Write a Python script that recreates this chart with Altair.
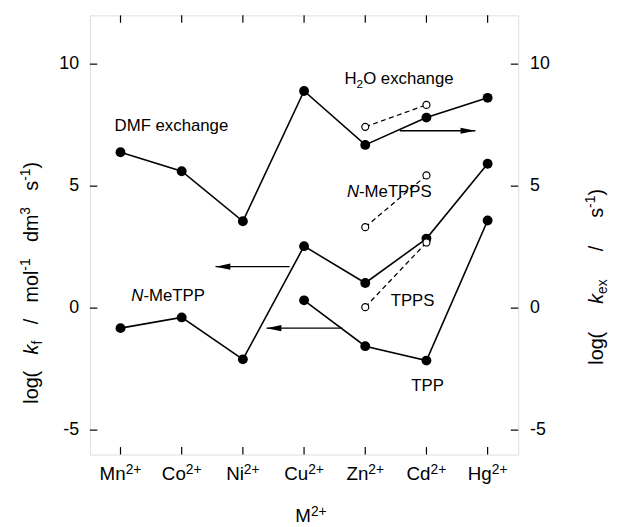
import altair as alt
import pandas as pd

FONT = "Liberation Sans"

# ---------------- data ----------------
metals = ["Mn", "Co", "Ni", "Cu", "Zn", "Cd", "Hg"]
charge = "2+"
solvent_exchange = [6.39, 5.61, 3.56, 8.90, 6.69, 7.81, 8.62]   # DMF / H2O exchange (log kex)
n_metpp = [-0.82, -0.38, -2.10, 2.54, 1.03, 2.85, 5.92]
tpp_metals = ["Cu", "Zn", "Cd", "Hg"]
tpp = [0.32, -1.56, -2.15, 3.59]
open_metals = ["Zn", "Cd"]
h2o_open = [7.43, 8.33]
n_metpps = [3.32, 5.44]
tpps = [0.04, 2.69]
y_ticks = [-5, 0, 5, 10]
arrow_y = [7.27, 1.70, -0.82]
arrow_tail = [4.565, 2.763, 3.624]
arrow_tip = [5.80, 1.553, 2.387]
arrow_dir = ["right", "left", "left"]

W, H = 434, 445
XS = alt.Scale(domain=[-0.5, 6.5], nice=False, zero=False)
YS = alt.Scale(domain=[-6, 12], nice=False, zero=False)

idx = {m: i for i, m in enumerate(metals)}

solid_rows = []
for name, ms, vals in [("solvent", metals, solvent_exchange),
                       ("nmetpp", metals, n_metpp),
                       ("tpp", tpp_metals, tpp)]:
    for m, v in zip(ms, vals):
        solid_rows.append({"s": name, "i": idx[m], "v": v})
solid = pd.DataFrame(solid_rows)

open_rows = []
for name, vals in [("h2o", h2o_open), ("nmetpps", n_metpps), ("tpps", tpps)]:
    for m, v in zip(open_metals, vals):
        open_rows.append({"s": name, "i": idx[m], "v": v})
opn = pd.DataFrame(open_rows)

arrows = pd.DataFrame({"y": arrow_y, "x": arrow_tail, "x2": arrow_tip, "d": arrow_dir})
yt = pd.DataFrame({"v": y_ticks, "lab": [str(v) for v in y_ticks]})
xt = pd.DataFrame({"i": list(range(len(metals)))})

# ---------------- helpers ----------------
CW = {" ": 278, "(": 333, ")": 333, "/": 278, "-": 333, "+": 584, "l": 222, "o": 556,
      "g": 556, "k": 500, "f": 278, "m": 833, "d": 556, "s": 500, "e": 556, "x": 500,
      "M": 833, "n": 556, "C": 722, "N": 722, "i": 222, "u": 556, "Z": 611, "H": 722,
      "c": 500, "h": 556, "a": 556, "D": 722, "F": 611, "O": 778, "T": 611, "P": 667,
      "S": 667}


def tw(s, size):
    return sum(CW.get(c, 556) for c in s) * size / 1000.0


def rich(pieces, x, y, angle=0, center=False, target=None):
    # pieces: (text, size, italic, baseline shift); leading/trailing spaces handled via dx
    nat = sum(tw(t, s) for t, s, _, _ in pieces)
    nsp = sum((len(t) - len(t.lstrip(" "))) + (len(t) - len(t.rstrip(" ")))
              for t, _, _, _ in pieces)
    extra = (target - nat) / nsp if (target and nsp) else 0.0
    total = nat + extra * nsp
    cum = -total / 2 if center else 0.0
    out = []
    for t, s, it, sh in pieces:
        lead = len(t) - len(t.lstrip(" "))
        trail = len(t) - len(t.rstrip(" "))
        core = t.strip(" ")
        spw = tw(" ", s) + extra
        cum += lead * spw
        out.append(
            alt.Chart(pd.DataFrame({"t": [core]}))
            .mark_text(align="left", baseline="alphabetic", dx=round(cum, 2), dy=sh,
                       angle=angle, font=FONT, fontSize=s,
                       fontStyle="italic" if it else "normal", color="black")
            .encode(x=x, y=y, text="t:N")
        )
        cum += tw(core, s) + trail * spw
    return out


def xd(v):
    return alt.XDatum(v, scale=XS, axis=None, type="quantitative")


def yd(v):
    return alt.YDatum(v, scale=YS, axis=None, type="quantitative")


X = alt.X("i:Q", scale=XS, axis=None)
Y = alt.Y("v:Q", scale=YS, axis=None)

layers = []

# ticks (inward)
layers.append(alt.Chart(yt).mark_rule(color="black", strokeWidth=1.2)
              .encode(y=Y, x=alt.value(0), x2=alt.value(7.5)))
layers.append(alt.Chart(yt).mark_rule(color="black", strokeWidth=1.2)
              .encode(y=Y, x=alt.value(W - 7.5), x2=alt.value(W)))
layers.append(alt.Chart(xt).mark_rule(color="black", strokeWidth=1.2)
              .encode(x=X, y=alt.value(H - 7.5), y2=alt.value(H)))
layers.append(alt.Chart(xt).mark_rule(color="black", strokeWidth=1.2)
              .encode(x=X, y=alt.value(0), y2=alt.value(7.5)))

# y tick labels
layers.append(alt.Chart(yt).mark_text(align="right", baseline="middle", font=FONT,
                                      fontSize=18, color="black")
              .encode(y=Y, x=alt.value(-11), text="lab:N"))
layers.append(alt.Chart(yt).mark_text(align="left", baseline="middle", font=FONT,
                                      fontSize=18, color="black")
              .encode(y=Y, x=alt.value(W + 12), text="lab:N"))

# lines
layers.append(alt.Chart(solid).mark_line(color="black", strokeWidth=1.6)
              .encode(x=X, y=Y, detail="s:N"))
layers.append(alt.Chart(opn).mark_line(color="black", strokeWidth=1.3, strokeDash=[5, 3.5])
              .encode(x=X, y=Y, detail="s:N"))

# arrows
layers.append(alt.Chart(arrows).mark_rule(color="black", strokeWidth=1.4)
              .encode(x=alt.X("x:Q", scale=XS, axis=None), x2="x2:Q",
                      y=alt.Y("y:Q", scale=YS, axis=None)))
layers.append(alt.Chart(arrows).mark_point(filled=True, size=225, color="black", opacity=1)
              .encode(x=alt.X("x2:Q", scale=XS, axis=None),
                      y=alt.Y("y:Q", scale=YS, axis=None),
                      shape=alt.Shape("d:N", scale=alt.Scale(
                          domain=["left", "right"],
                          range=["M0,0L2,-0.42L2,0.42Z", "M0,0L-2,-0.42L-2,0.42Z"]),
                          legend=None)))

# markers
layers.append(alt.Chart(solid).mark_circle(size=100, color="black", opacity=1)
              .encode(x=X, y=Y))
layers.append(alt.Chart(opn).mark_point(shape="circle", filled=True, fill="white",
                                        stroke="black", strokeWidth=1.2, size=50, opacity=1)
              .encode(x=X, y=Y))

# category labels
for i, m in enumerate(metals):
    layers += rich([(m, 19, False, 0), (charge, 14, False, -6)], xd(i), alt.value(H + 26),
                   center=True)

# annotations
layers += rich([("DMF exchange", 17, False, 0)], xd(-0.097), yd(7.28))
layers += rich([("H", 17, False, 0), ("2", 12, False, 4), ("O exchange", 17, False, 0)],
               xd(3.66), yd(9.17))
layers += rich([("N", 17, True, 0), ("-MeTPPS", 17, False, 0)], xd(3.70), yd(4.56))
layers += rich([("N", 17, True, 0), ("-MeTPP", 17, False, 0)], xd(0.177), yd(0.31))
layers += rich([("TPPS", 17, False, 0)], xd(4.415), yd(0.08))
layers += rich([("TPP", 17, False, 0)], xd(4.753), yd(-3.40))

# axis titles
layers += rich([("log(", 20, False, 0), (" k", 20, True, 0), ("f", 14, False, 4),
                (" /", 20, False, 0), (" mol", 20, False, 0), ("-1", 14, False, -8),
                (" dm", 20, False, 0), ("3", 14, False, -8), (" s", 20, False, 0),
                ("-1", 14, False, -8), (")", 20, False, 0)],
               alt.value(-53), alt.value(271), angle=270, center=True, target=245)
layers += rich([("log(", 20, False, 0), (" k", 20, True, 0), ("ex", 14, False, 4),
                (" /", 20, False, 0), (" s", 20, False, 0), ("-1", 14, False, -8),
                (")", 20, False, 0)],
               alt.value(W + 86), alt.value(265), angle=270, center=True, target=178)
layers += rich([("M", 19, False, 0), ("2+", 14, False, -6)], alt.value(224), alt.value(513),
               center=True)

chart = (
    alt.layer(*layers)
    .properties(width=W, height=H,
                padding={"left": 83, "top": 4, "right": 93, "bottom": 70},
                autosize=alt.AutoSizeParams(type="none"))
    .configure_view(stroke="black", strokeWidth=1.5)
    .configure(background="white")
)

chart.save("out.html", embed_options={"renderer": "svg", "actions": False})
